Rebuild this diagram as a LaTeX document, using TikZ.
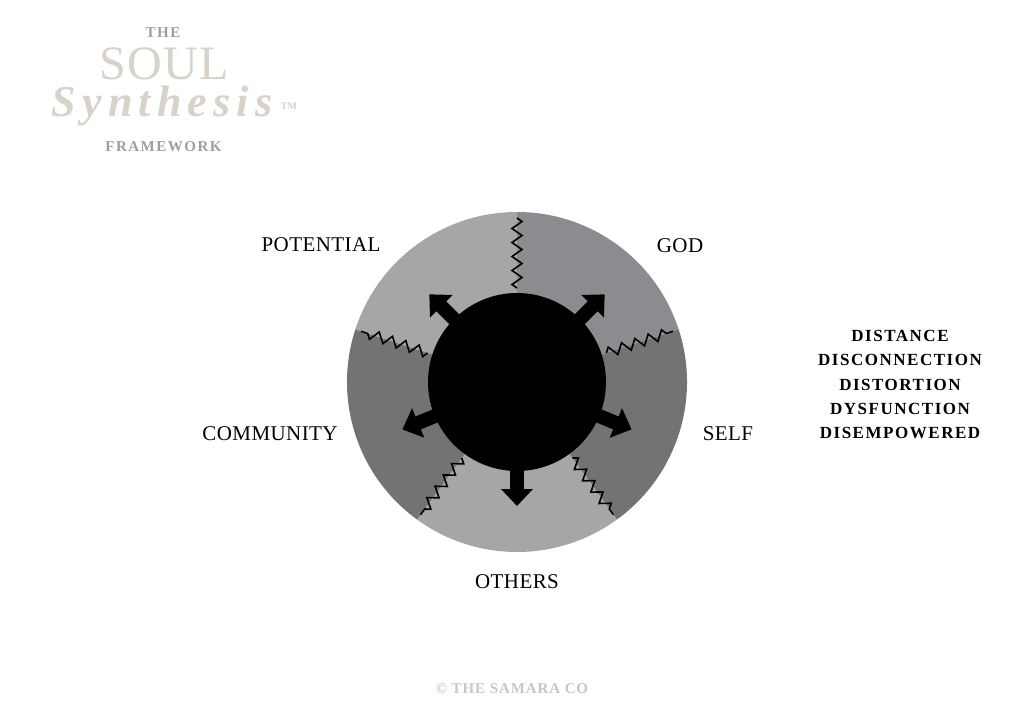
\documentclass[tikz,border=0pt]{standalone}
\usepackage{fontspec}
\setmainfont{Liberation Serif}
\newfontfamily\labelfont[LetterSpace=2]{Liberation Serif}
\newfontfamily\listfont[LetterSpace=9]{Liberation Serif}
\newfontfamily\titlefont[LetterSpace=10]{Liberation Serif}
\newfontfamily\soulfont[LetterSpace=3]{Liberation Serif}
\newfontfamily\synthfont[LetterSpace=14]{Liberation Serif}
\newfontfamily\creditfont[LetterSpace=6]{Liberation Serif}
\usetikzlibrary{arrows.meta,decorations.pathmorphing}

\definecolor{titlebeige}{HTML}{D8D2C8}
\definecolor{titletaupe}{HTML}{A59C94}
\definecolor{footbeige}{HTML}{CCC5BB}
\definecolor{sectorlight}{HTML}{A6A6A6}
\definecolor{sectormauve}{HTML}{8E8B90}
\definecolor{sectordark}{HTML}{737373}

\begin{document}
\begin{tikzpicture}[x=1pt, y=1pt,
  area label/.style = {font=\labelfont\fontsize{21}{21}\selectfont, inner sep=0pt},
  zz/.style = {line width=1.6pt, line join=miter, decorate,
    decoration={zigzag, segment length=14pt, amplitude=5pt}},
  outarrow/.style = {line width=14pt, -{Triangle[width=31pt, length=17pt]}}]
  \useasboundingbox (0,0) rectangle (1024,724);
  \fill[white] (0,0) rectangle (1024,724);

  % title block
  \node[font=\titlefont\bfseries\fontsize{15}{15}\selectfont, text=titletaupe, inner sep=0pt] (the) at (163,691.5) {THE};
  \node[font=\soulfont\fontsize{48}{48}\selectfont, text=titlebeige, inner sep=0pt] (soul) at (164,660) {SOUL};
  \node[font=\synthfont\bfseries\itshape\fontsize{44}{44}\selectfont, text=titlebeige, inner sep=0pt, anchor=base] (synth) at (162,607) {Synthesis};
  \node[font=\bfseries\fontsize{10}{10}\selectfont, text=titlebeige, inner sep=0pt] (tm) at (289,617.5) {TM};
  \node[font=\titlefont\bfseries\fontsize{15}{15}\selectfont, text=titletaupe, inner sep=0pt] (frame) at (163.5,577) {FRAMEWORK};

  % wheel
  \begin{scope}[shift={(517,342)}]
    \foreach \a/\c in {90/sectorlight, 18/sectormauve, -54/sectordark, -126/sectorlight, -198/sectordark}
      \fill[\c] (0,0) -- (\a:170) arc[start angle=\a, end angle=\a+72, radius=170pt] -- cycle;
    \foreach \a in {90,18,-54,-126,162}
      \draw[zz] (\a:94) -- (\a:164);
    \node[circle, fill=black, minimum size=178pt, inner sep=0pt] (core) at (0,0) {};
    \foreach \a [count=\i] in {135,45,-22.5,-90,202.5}
      \coordinate (tip\i) at (\a:124);
    \foreach \i in {1,...,5}
      \draw[outarrow] (core.center) -- (tip\i);
  \end{scope}

  % areas
  \node[area label] (potential) at (321,479) {POTENTIAL};
  \node[area label] (god) at (680,478) {GOD};
  \node[area label] (community) at (270,290) {COMMUNITY};
  \node[area label] (self) at (728,290) {SELF};
  \node[area label] (others) at (517,142.5) {OTHERS};

  \node[font=\listfont\bfseries\fontsize{17}{24.2}\selectfont, align=center, inner sep=0pt] (states) at (900,339.5)
    {DISTANCE\\DISCONNECTION\\DISTORTION\\DYSFUNCTION\\DISEMPOWERED};

  \node[font=\creditfont\bfseries\fontsize{15}{15}\selectfont, text=footbeige, inner sep=0pt] (credit) at (512,35) {© THE SAMARA CO};
\end{tikzpicture}
\end{document}
